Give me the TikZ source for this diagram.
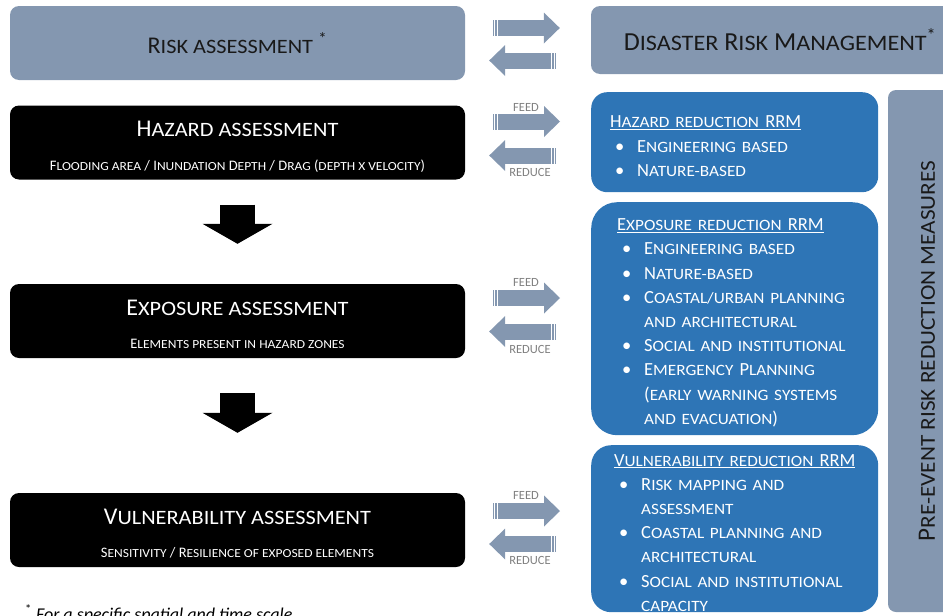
\documentclass[tikz,border=0pt]{standalone}
\usepackage{fontspec}
\usepackage{graphicx}
\setmainfont{Carlito}
\usetikzlibrary{arrows.meta,decorations.markings}
\definecolor{slate}{HTML}{8497B0}
\definecolor{rrmblue}{HTML}{2E75B6}
\definecolor{lblgray}{HTML}{7F7F7F}
\newcommand\lo[1]{\scalebox{0.93}[0.85]{\MakeUppercase{#1}}}
\newcommand\itm[1]{\hspace*{5pt}\makebox[22pt][l]{\textbullet}#1}
\newcommand\cnt[1]{\hspace*{27pt}#1}
\newcommand\rrmhead[1]{\rule{0pt}{20pt}\underline{#1}}
\tikzset{
BOX/.style={draw=none, rounded corners=9pt, minimum width=455pt, minimum height=74pt, inner sep=0pt},
TOPBOX/.style={BOX, fill=slate, text=black!90, font=\fontsize{24}{28}\selectfont},
ASSESS/.style={BOX, fill=black},
TITLE/.style={anchor=base, inner sep=0pt, text=white, font=\fontsize{24}{28}\selectfont},
SUB/.style={anchor=base, inner sep=0pt, text=white, font=\fontsize{14.5}{17}\selectfont},
RRM/.style={draw=none, fill=rrmblue, rounded corners=#1, text=white, align=left, anchor=north west,
  inner ysep=0pt, minimum width=287pt, font=\fontsize{18.5}{24.2}\selectfont},
RRM/.default=16pt,
BAR/.style={draw=none, fill=slate, rounded corners=8pt, rotate=90, minimum width=522pt, minimum height=78pt,
  inner sep=0pt, text=black!90, font=\fontsize{25}{28}\selectfont},
LBL/.style={inner sep=0pt, text=lblgray, font=\fontsize{12.5}{14}\selectfont},
FLAT/.style={line width=16pt, draw=slate, -{Triangle[length=16pt,width=31pt,line width=0pt]},
  decoration={markings,
    mark=at position 1.6pt with {\draw[white,line width=0.9pt,-] (0,-8.5pt) -- (0,8.5pt);},
    mark=at position 4.4pt with {\draw[white,line width=0.9pt,-] (0,-8.5pt) -- (0,8.5pt);}},
  postaction={decorate}},
DOWN/.style={line width=35pt, draw=black, -{Triangle[length=20pt,width=70pt,line width=0pt]}},
}
\begin{document}
\begin{tikzpicture}[x=1pt,y=-1pt]
	\useasboundingbox (0,0) rectangle (943,616);
	\clip (0,0) rectangle (943,616);
	%Left column
	\node[TOPBOX] (risk) at (237.5,43) {R\lo{isk assessment} \textsuperscript{*}};
	\node[ASSESS] (haz) at (237.5,142.5) {};
	\node[TITLE] (hazt) at ([yshift=6pt]haz.center) {H\lo{azard assessment}};
	\node[SUB] (hazs) at ([yshift=-28pt]haz.center) {F\lo{looding area} / I\lo{nundation} D\lo{epth} / D\lo{rag} (\lo{depth x velocity})};
	\node[ASSESS] (exp) at (237.5,321) {};
	\node[TITLE] (expt) at ([yshift=5.5pt]exp.center) {E\lo{xposure assessment}};
	\node[SUB] (exps) at ([yshift=-27.5pt]exp.center) {E\lo{lements present in hazard zones}};
	\node[ASSESS] (vul) at (237.5,530) {};
	\node[TITLE] (vult) at ([yshift=6pt]vul.center) {V\lo{ulnerability assessment}};
	\node[SUB] (vuls) at ([yshift=-27.5pt]vul.center) {S\lo{ensitivity} / R\lo{esilience of exposed elements}};
	\draw[DOWN] ([yshift=-25pt]haz.south) -- ([yshift=40pt]exp.north);
	\draw[DOWN] ([yshift=-35pt]exp.south) -- ([yshift=60pt]vul.north);
	%Right column
	\node[TOPBOX, minimum width=378pt, minimum height=68pt, font=\fontsize{26}{30}\selectfont] (drm) at (780,40)
		{D\lo{isaster} R\lo{isk} M\lo{anagement}\textsuperscript{*}};
	\node[RRM, inner xsep=19pt, text width=249pt, minimum height=100pt] (hrrm) at (591,92)
		{\rrmhead{H\lo{azard reduction} RRM}\\
		\itm{E\lo{ngineering based}}\\
		\itm{N\lo{ature-based}}};
	\node[RRM=26pt, inner xsep=26pt, text width=235pt, minimum height=233pt] (errm) at (591,202)
		{\rrmhead{E\lo{xposure reduction} RRM}\\
		\itm{E\lo{ngineering based}}\\
		\itm{N\lo{ature-based}}\\
		\itm{C\lo{oastal/urban planning}}\\
		\cnt{\lo{and architectural}}\\
		\itm{S\lo{ocial and institutional}}\\
		\itm{E\lo{mergency} P\lo{lanning}}\\
		\cnt{(\lo{early warning systems}}\\
		\cnt{\lo{and evacuation})}};
	\node[RRM=20pt, inner xsep=23pt, text width=241pt, minimum height=167pt] (vrrm) at (591,445)
		{\rrmhead{V\lo{ulnerability reduction} RRM}\\
		\itm{R\lo{isk mapping and}}\\
		\cnt{\lo{assessment}}\\
		\itm{C\lo{oastal planning and}}\\
		\cnt{\lo{architectural}}\\
		\itm{S\lo{ocial and institutional}}\\
		\cnt{\lo{capacity}}};
	\node[BAR] (pre) at (927,351) {P\lo{re-event risk reduction measures}};
	%Feed and reduce
	\draw[FLAT] ([xshift=28pt]risk.east |- 0,28) -- ([xshift=-31pt]drm.west |- 0,28);
	\draw[FLAT] ([xshift=-35pt]drm.west |- 0,60.5) -- ([xshift=24pt]risk.east |- 0,60.5);
	\draw[FLAT] ([xshift=28pt]haz.east |- 0,121.5) -- ([xshift=-31pt]hrrm.west |- 0,121.5);
	\draw[FLAT] ([xshift=-35pt]hrrm.west |- 0,155.5) -- ([xshift=24pt]haz.east |- 0,155.5);
	\draw[FLAT] ([xshift=28pt]exp.east |- 0,298) -- ([xshift=-31pt]errm.west |- 0,298);
	\draw[FLAT] ([xshift=-35pt]errm.west |- 0,331.5) -- ([xshift=24pt]exp.east |- 0,331.5);
	\draw[FLAT] ([xshift=28pt]vul.east |- 0,511) -- ([xshift=-31pt]vrrm.west |- 0,511);
	\draw[FLAT] ([xshift=-35pt]vrrm.west |- 0,544) -- ([xshift=24pt]vul.east |- 0,544);
	\node[LBL] (feedh) at (526,107) {FEED};
	\node[LBL] (redh) at (530,172.5) {REDUCE};
	\node[LBL] (feede) at (526,282.5) {FEED};
	\node[LBL] (rede) at (530,349) {REDUCE};
	\node[LBL] (feedv) at (526,495) {FEED};
	\node[LBL] (redv) at (530,560) {REDUCE};
	%Footnote
	\node[anchor=base west, inner sep=0pt, font=\fontsize{18}{22}\selectfont] (note) at (25,620)
		{\textsuperscript{*} \textit{For a specific spatial and time scale}};
\end{tikzpicture}
\end{document}
